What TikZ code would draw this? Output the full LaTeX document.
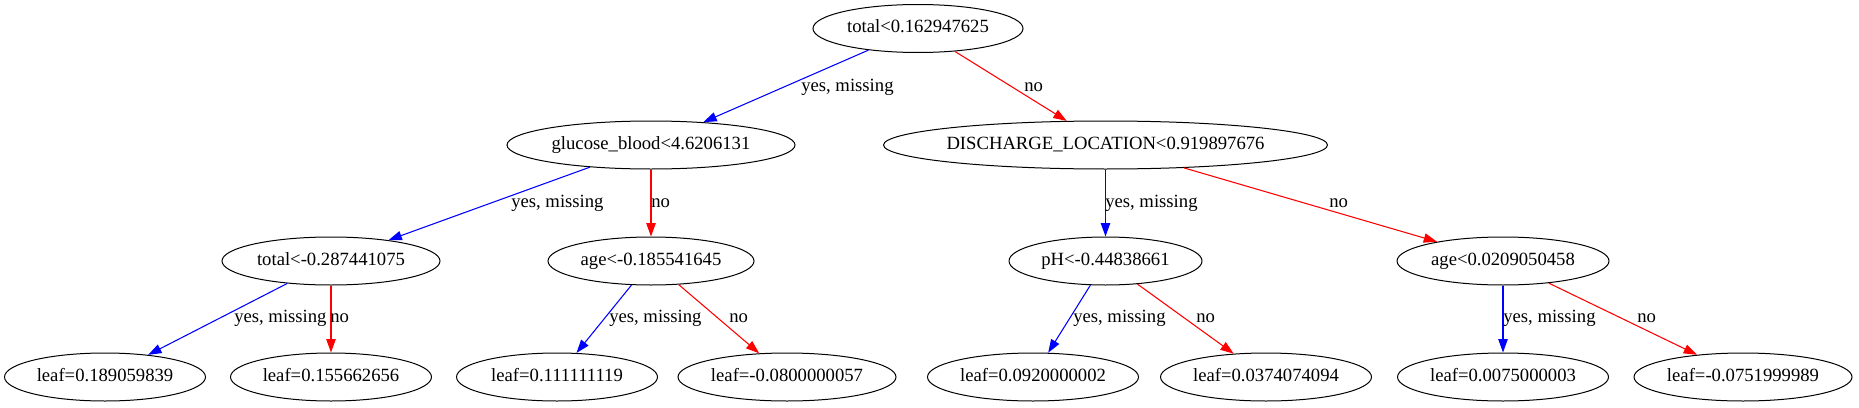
\documentclass[tikz,border=0pt]{standalone}
\usepackage{fontspec}
\setmainfont{Liberation Serif}
\usetikzlibrary{shapes.geometric,arrows.meta}
\begin{document}
\begin{tikzpicture}[x=0.75pt,y=-0.75pt,
  tn/.style={draw=black, line width=0.75pt, ellipse, inner sep=0pt, minimum height=36pt,
    font=\fontsize{14}{16.8}\selectfont},
  yesedge/.style={draw=blue, line width=0.8pt, -{Triangle[length=10pt,width=7pt]}},
  noedge/.style={draw=red, line width=0.8pt, -{Triangle[length=10pt,width=7pt]}},
  elabel/.style={anchor=west, inner sep=0pt, font=\fontsize{14}{16.8}\selectfont}
]
\useasboundingbox (0,0) rectangle (1859,407);
% level 0
\node[tn, minimum width=157.5pt] (root) at (918,28.5) {\makebox[0pt]{\strut total<0.162947625}};
% level 1
\node[tn, minimum width=216pt] (glu) at (651,145) {\makebox[0pt]{\strut glucose\_blood<4.6206131}};
\node[tn, minimum width=333pt] (dis) at (1105.5,145) {\makebox[0pt]{\strut DISCHARGE\_LOCATION<0.919897676}};
% level 2
\node[tn, minimum width=163.5pt] (tot) at (331,261) {\makebox[0pt]{\strut total<-0.287441075}};
\node[tn, minimum width=154.5pt] (agea) at (651,261) {\makebox[0pt]{\strut age<-0.185541645}};
\node[tn, minimum width=144.75pt] (ph) at (1105.5,261) {\makebox[0pt]{\strut pH<-0.44838661}};
\node[tn, minimum width=159pt] (ageb) at (1503,261) {\makebox[0pt]{\strut age<0.0209050458}};
% level 3
\node[tn, minimum width=150.75pt] (l1) at (105,377) {\makebox[0pt]{\strut leaf=0.189059839}};
\node[tn, minimum width=150.75pt] (l2) at (331,377) {\makebox[0pt]{\strut leaf=0.155662656}};
\node[tn, minimum width=150.75pt] (l3) at (557,377) {\makebox[0pt]{\strut leaf=0.111111119}};
\node[tn, minimum width=163.5pt] (l4) at (787,377) {\makebox[0pt]{\strut leaf=-0.0800000057}};
\node[tn, minimum width=158.25pt] (l5) at (1033,377) {\makebox[0pt]{\strut leaf=0.0920000002}};
\node[tn, minimum width=158.25pt] (l6) at (1266,377) {\makebox[0pt]{\strut leaf=0.0374074094}};
\node[tn, minimum width=158.25pt] (l7) at (1503,377) {\makebox[0pt]{\strut leaf=0.0075000003}};
\node[tn, minimum width=163.5pt] (l8) at (1743,377) {\makebox[0pt]{\strut leaf=-0.0751999989}};
% edges
\draw[yesedge] (root) -- (glu);
\draw[noedge] (root) -- (dis);
\draw[yesedge] (glu) -- (tot);
\draw[noedge] (glu) -- (agea);
\draw[yesedge] (dis) -- (ph);
\draw[noedge] (dis) -- (ageb);
\draw[yesedge] (tot) -- (l1);
\draw[noedge] (tot) -- (l2);
\draw[yesedge] (agea) -- (l3);
\draw[noedge] (agea) -- (l4);
\draw[yesedge] (ph) -- (l5);
\draw[noedge] (ph) -- (l6);
\draw[yesedge] (ageb) -- (l7);
\draw[noedge] (ageb) -- (l8);
% edge labels
\node[elabel] (e1) at (801,87) {\strut yes, missing};
\node[elabel] (e2) at (1024,87) {\strut no};
\node[elabel] (e3) at (511,203) {\strut yes, missing};
\node[elabel] (e4) at (651,203) {\strut no};
\node[elabel] (e5) at (1105,203) {\strut yes, missing};
\node[elabel] (e6) at (1329,203) {\strut no};
\node[elabel] (e7) at (234,318) {\strut yes, missing};
\node[elabel] (e8) at (330,318) {\strut no};
\node[elabel] (e9) at (609,318) {\strut yes, missing};
\node[elabel] (e10) at (729,318) {\strut no};
\node[elabel] (e11) at (1073,318) {\strut yes, missing};
\node[elabel] (e12) at (1196,318) {\strut no};
\node[elabel] (e13) at (1503,318) {\strut yes, missing};
\node[elabel] (e14) at (1637,318) {\strut no};
\end{tikzpicture}
\end{document}
